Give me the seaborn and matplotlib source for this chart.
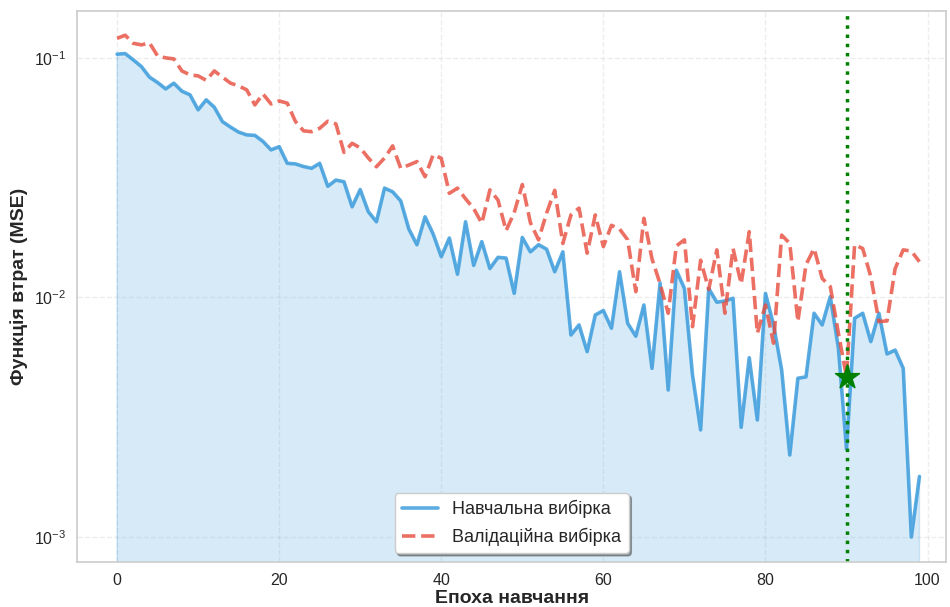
import numpy as np
import pandas as pd
import matplotlib
matplotlib.use("Agg")
import matplotlib.pyplot as plt
import seaborn as sns

# loss per epoch
epochs = list(range(100))

train_loss = [
    0.1036, 0.1042, 0.0981, 0.0920, 0.0831, 0.0789, 0.0742, 0.0784, 0.0726, 0.0701,
    0.0607, 0.0668, 0.0622, 0.0542, 0.0514, 0.0490, 0.0477, 0.0475, 0.0448, 0.0413,
    0.0426, 0.0363, 0.0361, 0.0352, 0.0346, 0.0363, 0.0291, 0.0309, 0.0304, 0.0239,
    0.0282, 0.0228, 0.0207, 0.0286, 0.0276, 0.0253, 0.0193, 0.0166, 0.0217, 0.0184,
    0.0148, 0.0177, 0.0125, 0.0207, 0.0136, 0.0171, 0.0132, 0.0147, 0.0146, 0.0104,
    0.0178, 0.0155, 0.0166, 0.0159, 0.0128, 0.0155, 0.00697, 0.00768, 0.00594, 0.00845,
    0.00882, 0.00744, 0.0128, 0.00780, 0.00689, 0.00930, 0.00506, 0.0115, 0.00411, 0.0130,
    0.0109, 0.00475, 0.00280, 0.0109, 0.00955, 0.00967, 0.00992, 0.00287, 0.00560, 0.00308,
    0.0104, 0.00768, 0.00498, 0.00220, 0.00460, 0.00466, 0.00859, 0.00768, 0.01008, 0.00615,
    0.00233, 0.00819, 0.00859, 0.00654, 0.00859, 0.00581, 0.00603, 0.00506, 0.00100, 0.00179,
]

val_loss = [
    0.1206, 0.1243, 0.1150, 0.1133, 0.1155, 0.1019, 0.1000, 0.0990, 0.0882, 0.0849,
    0.0841, 0.0806, 0.0882, 0.0831, 0.0784, 0.0764, 0.0735, 0.0636, 0.0707, 0.0642,
    0.0661, 0.0647, 0.0543, 0.0496, 0.0492, 0.0508, 0.0544, 0.0530, 0.0403, 0.0440,
    0.0421, 0.0382, 0.0351, 0.0382, 0.0429, 0.0346, 0.0357, 0.0369, 0.0319, 0.0394,
    0.0381, 0.0272, 0.0286, 0.0258, 0.0235, 0.0204, 0.0281, 0.0255, 0.0190, 0.0226,
    0.0296, 0.0205, 0.0174, 0.0225, 0.0280, 0.0168, 0.0221, 0.0236, 0.0153, 0.0221,
    0.0163, 0.0200, 0.0193, 0.0174, 0.01057, 0.0214, 0.0145, 0.0114, 0.00859, 0.0164,
    0.0174, 0.00755, 0.0143, 0.0108, 0.0158, 0.00859, 0.0160, 0.0114, 0.0188, 0.00709,
    0.00930, 0.00644, 0.0182, 0.0168, 0.00794, 0.0137, 0.0160, 0.0120, 0.0111, 0.00709,
    0.00466, 0.0166, 0.0160, 0.0122, 0.00793, 0.00798, 0.0132, 0.0158, 0.0156, 0.0141,
]

train_label = "Навчальна вибірка"
val_label = "Валідаційна вибірка"

df = pd.DataFrame({"epoch": epochs, "train": train_loss, "val": val_loss})

sns.set_theme(style="whitegrid")
plt.rcParams["font.family"] = ["Liberation Sans", "DejaVu Sans"]

fig, ax = plt.subplots(figsize=(9.5, 6.07), dpi=100)
fig.subplots_adjust(left=0.081, right=0.996, top=0.982, bottom=0.074)

sns.lineplot(data=df, x="epoch", y="train", ax=ax, color="#3498db", alpha=0.8,
             linewidth=2.6, label=train_label)
sns.lineplot(data=df, x="epoch", y="val", ax=ax, color="#e74c3c", alpha=0.8,
             linewidth=2.6, linestyle="--", label=val_label)
ax.fill_between(df["epoch"], df["train"], 1e-5, color="#3498db", alpha=0.2)

# best epoch by validation loss
best = int(df["val"].idxmin())
ax.axvline(df["epoch"][best], color="green", linestyle=":", linewidth=2.5)
ax.scatter(df["epoch"][best], df["val"][best], marker="*", s=330, color="green", zorder=5)

ax.set_yscale("log")
ax.set_xlim(-4.95, 102.3)
ax.set_ylim(0.000786, 0.157)

ax.grid(True, linestyle="--", alpha=0.35)
for s in ax.spines.values():
    s.set_color("#cccccc")
    s.set_linewidth(1.2)

ax.set_xlabel("Епоха навчання", fontsize=14, fontweight="bold", labelpad=1)
ax.set_ylabel("Функція втрат (MSE)", fontsize=14, fontweight="bold", labelpad=4)
ax.tick_params(labelsize=11.5, pad=2)

leg = ax.legend(loc="lower center", fontsize=13, frameon=True, shadow=True,
                fancybox=True, framealpha=1)
leg.get_frame().set_edgecolor("#cccccc")

fig.savefig("out.png", dpi=100)
